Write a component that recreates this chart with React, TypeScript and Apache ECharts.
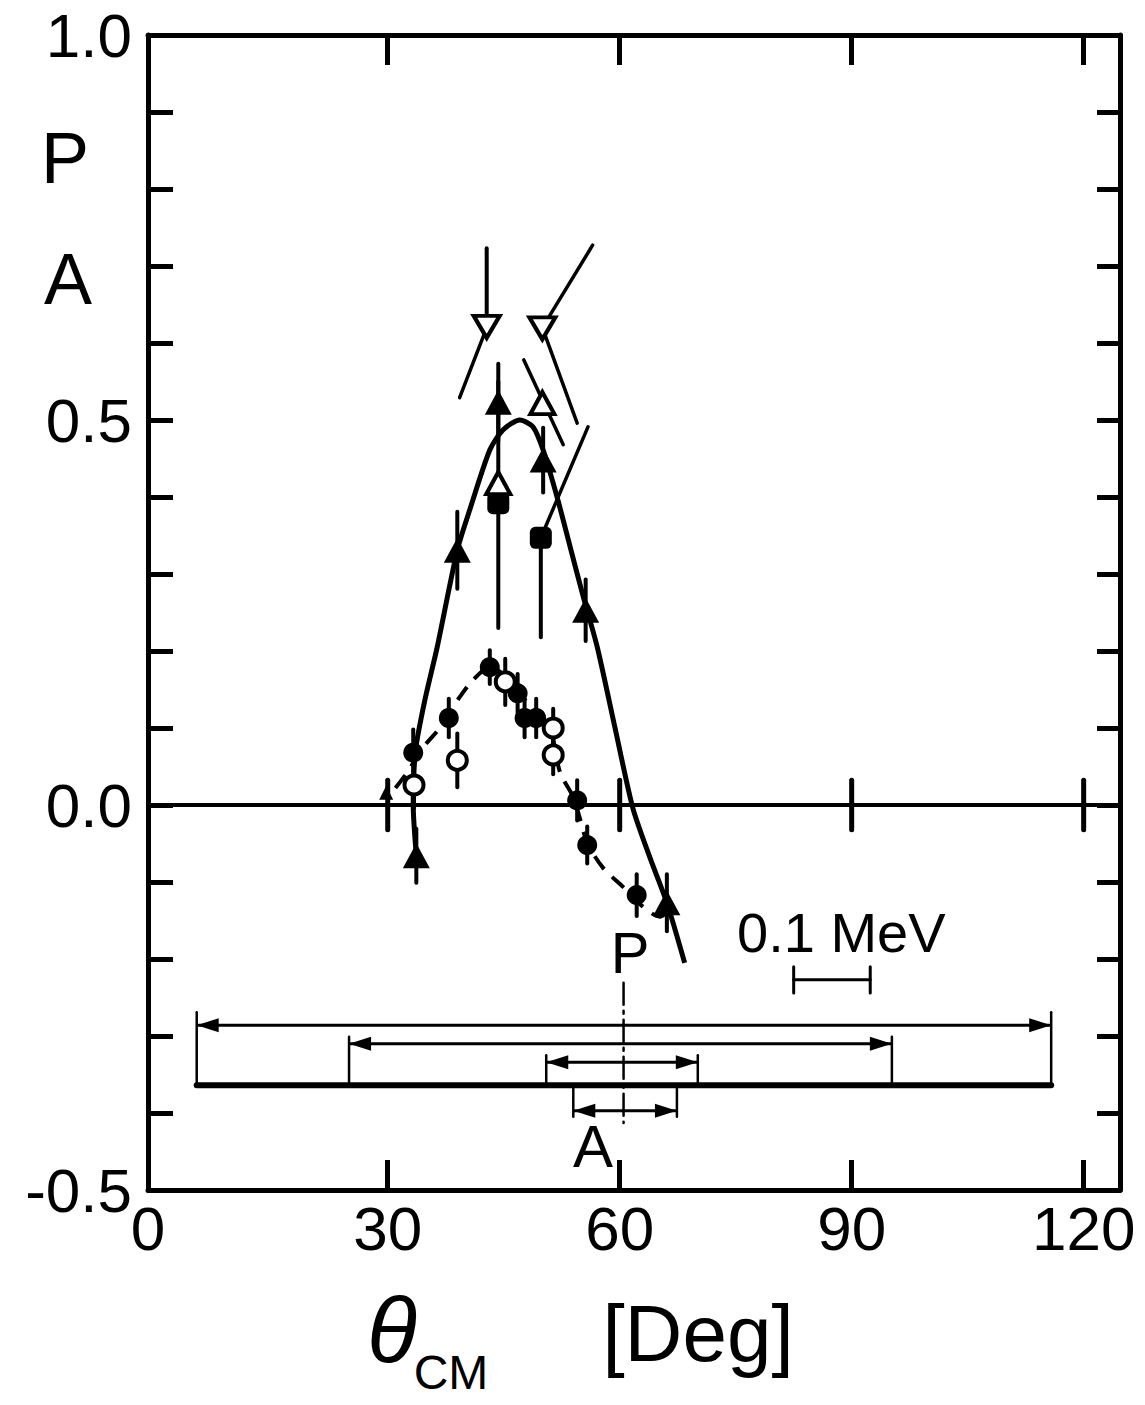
import React, { useEffect, useRef } from "react";
import * as echarts from "echarts";

// ---- axes ----
const X_MIN = -1;
const X_MAX = 124.7;
const Y_MIN = -0.5;
const Y_MAX = 1.0;
const xTickValues = [30, 60, 90, 120];
const xLabelValues = [-1, 30, 60, 90, 120];
const xLabelTexts = ["0", "30", "60", "90", "120"];
const yLabelValues = [-0.5, 0, 0.5, 1.0];
const yLabelTexts = ["-0.5", "0.0", "0.5", "1.0"];

// ---- filled triangles (solid curve data) ----
const fTriTheta = [33.7, 39.0, 44.3, 50.1, 55.6, 66.1];
const fTriVal = [-0.066, 0.331, 0.523, 0.448, 0.253, -0.127];
const fTriErr = [0.035, 0.05, 0.05, 0.042, 0.04, 0.037];
const smallTriTheta = [29.8];
const smallTriVal = [0.016];

// ---- open triangles ----
const oTriTheta = [44.3, 50.0];
const oTriVal = [0.418, 0.522];

// ---- open inverted triangles ----
const invTriTheta = [42.8, 50.0];
const invTriVal = [0.621, 0.619];
const invTriTop = [0.723, null];

// ---- filled squares ----
const sqTheta = [44.3, 49.8];
const sqVal = [0.392, 0.347];
const sqLow = [0.23, 0.218];
const sqHigh = [0.55, 0.347];

// ---- filled circles (dashed curve data) ----
const fCircTheta = [33.3, 37.9, 43.2, 46.8, 47.7, 49.2, 54.5, 55.8, 62.2];
const fCircVal = [0.068, 0.113, 0.179, 0.145, 0.113, 0.113, 0.006, -0.052, -0.117];
const fCircErr = [0.03, 0.025, 0.022, 0.025, 0.025, 0.025, 0.026, 0.024, 0.027];

// ---- open circles ----
const oCircTheta = [33.4, 39.0, 45.2, 51.4, 51.4];
const oCircVal = [0.026, 0.058, 0.16, 0.1, 0.065];
const oCircErr = [0.03, 0.035, 0.03, 0.025, 0.025];

// ---- slanted bars [theta1, val1, theta2, val2] ----
const slantTheta1 = [42.8, 50.0, 50.0, 47.6, 49.8];
const slantVal1 = [0.62, 0.62, 0.62, 0.578, 0.347];
const slantTheta2 = [39.3, 56.5, 54.5, 52.7, 55.9];
const slantVal2 = [0.529, 0.727, 0.496, 0.468, 0.491];

// ---- curves ----
const solidTheta = [33.7, 33.3, 33.6, 34.8, 36.4, 39.0, 40.6, 43.2, 44.9, 47.1, 48.8, 50.1, 51.9, 53.6, 55.3, 57.1, 59.4, 61.7, 63.9, 66.1, 68.4];
const solidVal = [-0.066, 0.0, 0.071, 0.136, 0.205, 0.331, 0.383, 0.461, 0.487, 0.5, 0.491, 0.461, 0.4, 0.335, 0.27, 0.205, 0.1, -0.004, -0.068, -0.127, -0.205];
const dashTheta = [31.0, 32.5, 34.6, 36.8, 39.3, 41.0, 43.2, 45.8, 48.4, 51.0, 52.3, 54.0, 54.9, 55.8, 57.8, 60.4, 63.0, 65.2, 66.2];
const dashVal = [0.022, 0.042, 0.075, 0.101, 0.14, 0.162, 0.179, 0.162, 0.128, 0.097, 0.042, 0.01, -0.019, -0.049, -0.081, -0.106, -0.132, -0.145, -0.139];

// ---- resolution diagram ----
const resLo = [5.3, 25.0, 50.5, 54.0];
const resHi = [115.8, 95.2, 70.1, 67.4];
const resY = [-0.286, -0.31, -0.334, -0.397];
const resTickEnd = [-0.269, -0.301, -0.325, -0.405];
const resBaseY = -0.364;
const resMarkTheta = 60.5;
const resMarkTop = -0.231;
const resMarkBottom = -0.413;
const scaleBarTheta = [82.5, 92.4];
const scaleBarVal = -0.227;
const scaleBarHalf = 0.017;

const FONT = "'Liberation Sans', Arial, sans-serif";

function zip(...arrs: any[][]) {
  return arrs[0].map((_, i) => arrs.map((a) => a[i]));
}

export default function App() {
  const ref = useRef<HTMLDivElement>(null);
  useEffect(() => {
    if (!ref.current) return;
    const chart = echarts.init(ref.current, null, { renderer: "svg" });

    const segRender = (width: number, dash?: number[]) => (params: any, api: any) => {
      const p1 = api.coord([api.value(0), api.value(1)]);
      const p2 = api.coord([api.value(2), api.value(3)]);
      return {
        type: "line",
        shape: { x1: p1[0], y1: p1[1], x2: p2[0], y2: p2[1] },
        style: { stroke: "#000", lineWidth: width, lineDash: dash, lineCap: "round" },
      };
    };

    const errData = (th: number[], v: number[], e: number[]) =>
      th.map((t, i) => [t, v[i] - e[i], t, v[i] + e[i]]);

    const errorBars = [
      ...errData(fTriTheta, fTriVal, fTriErr),
      ...errData(fCircTheta, fCircVal, fCircErr),
      ...errData(oCircTheta, oCircVal, oCircErr),
      ...sqTheta.map((t, i) => [t, sqLow[i], t, sqHigh[i]]),
      ...invTriTheta.map((t, i) => (invTriTop[i] != null ? [t, invTriVal[i], t, invTriTop[i]] : null)).filter(Boolean),
    ];

    const slants = zip(slantTheta1, slantVal1, slantTheta2, slantVal2);
    const zeroTicks = xTickValues.map((t) => [t, -0.032, t, 0.032]);

    const resVerticals: number[][] = [];
    resLo.forEach((lo, i) => {
      resVerticals.push([lo, resBaseY, lo, resTickEnd[i]]);
      resVerticals.push([resHi[i], resBaseY, resHi[i], resTickEnd[i]]);
    });
    const scaleBar = [
      [scaleBarTheta[0], scaleBarVal, scaleBarTheta[1], scaleBarVal],
      [scaleBarTheta[0], scaleBarVal - scaleBarHalf, scaleBarTheta[0], scaleBarVal + scaleBarHalf],
      [scaleBarTheta[1], scaleBarVal - scaleBarHalf, scaleBarTheta[1], scaleBarVal + scaleBarHalf],
    ];

    const arrowRender = (params: any, api: any) => {
      const a = api.coord([api.value(0), api.value(2)]);
      const b = api.coord([api.value(1), api.value(2)]);
      const L = 22, W = 7;
      return {
        type: "group",
        children: [
          { type: "line", shape: { x1: a[0], y1: a[1], x2: b[0], y2: b[1] }, style: { stroke: "#000", lineWidth: 3 } },
          { type: "polygon", shape: { points: [[a[0], a[1]], [a[0] + L, a[1] - W], [a[0] + L, a[1] + W]] }, style: { fill: "#000" } },
          { type: "polygon", shape: { points: [[b[0], b[1]], [b[0] - L, b[1] - W], [b[0] - L, b[1] + W]] }, style: { fill: "#000" } },
        ],
      };
    };

    const segSeries = (name: string, data: any[], width: number, z: number, dash?: number[]) => ({
      name,
      type: "custom",
      renderItem: segRender(width, dash),
      data,
      encode: { x: [0, 2], y: [1, 3] },
      z,
      silent: true,
    });

    const filled = { color: "#000", opacity: 1 };
    const open = { color: "#fff", borderColor: "#000", borderWidth: 4, opacity: 1 };

    const option: any = {
      animation: false,
      backgroundColor: "#fff",
      grid: { left: 148, top: 35, width: 972, height: 1155, show: false },
      xAxis: [
        {
          type: "value",
          min: X_MIN,
          max: X_MAX,
          position: "bottom",
          axisLine: { show: true, onZero: false, lineStyle: { color: "#000", width: 5 } },
          axisTick: { show: true, inside: true, length: 30, customValues: xTickValues, lineStyle: { color: "#000", width: 5 } },
          axisLabel: {
            show: true,
            customValues: xLabelValues,
            formatter: (v: number) => xLabelTexts[xLabelValues.indexOf(v)] ?? "",
            fontSize: 62,
            fontFamily: FONT,
            color: "#000",
            margin: 7,
          },
          splitLine: { show: false },
        },
        {
          type: "value",
          min: X_MIN,
          max: X_MAX,
          position: "top",
          axisLine: { show: true, onZero: false, lineStyle: { color: "#000", width: 5 } },
          axisTick: { show: true, inside: true, length: 30, customValues: xTickValues, lineStyle: { color: "#000", width: 5 } },
          axisLabel: { show: false },
          splitLine: { show: false },
        },
      ],
      yAxis: [
        {
          type: "value",
          min: Y_MIN,
          max: Y_MAX,
          interval: 0.1,
          position: "left",
          axisLine: { show: true, onZero: false, lineStyle: { color: "#000", width: 5 } },
          axisTick: { show: true, inside: true, length: 25, lineStyle: { color: "#000", width: 5 } },
          axisLabel: {
            show: true,
            customValues: yLabelValues,
            formatter: (v: number) => {
              const i = yLabelValues.findIndex((y) => Math.abs(y - v) < 1e-6);
              return i >= 0 ? yLabelTexts[i] : "";
            },
            fontSize: 62,
            fontFamily: FONT,
            color: "#000",
            margin: 16,
          },
          splitLine: { show: false },
        },
        {
          type: "value",
          min: Y_MIN,
          max: Y_MAX,
          interval: 0.1,
          position: "right",
          axisLine: { show: true, onZero: false, lineStyle: { color: "#000", width: 5 } },
          axisTick: { show: true, inside: true, length: 23, lineStyle: { color: "#000", width: 5 } },
          axisLabel: { show: false },
          splitLine: { show: false },
        },
      ],
      series: [
        {
          name: "zero",
          type: "line",
          data: [],
          markLine: {
            silent: true,
            symbol: "none",
            label: { show: false },
            lineStyle: { color: "#000", width: 4, type: "solid" },
            data: [{ yAxis: 0 }],
          },
        },
        segSeries("zeroTicks", zeroTicks, 5, 2),
        {
          name: "solid",
          type: "line",
          data: zip(solidTheta, solidVal),
          smooth: 0.25,
          showSymbol: false,
          lineStyle: { color: "#000", width: 5 },
          z: 2,
          silent: true,
        },
        {
          name: "dashed",
          type: "line",
          data: zip(dashTheta, dashVal),
          smooth: 0.3,
          showSymbol: false,
          lineStyle: { color: "#000", width: 4, type: [16, 11] },
          z: 2,
          silent: true,
        },
        segSeries("errors", errorBars, 4, 3),
        segSeries("slants", slants, 3.5, 3),
        {
          name: "filledTri",
          type: "scatter",
          data: zip(fTriTheta, fTriVal),
          symbol: "triangle",
          symbolSize: [27, 25],
          itemStyle: filled,
          z: 5,
        },
        {
          name: "smallTri",
          type: "scatter",
          data: zip(smallTriTheta, smallTriVal),
          symbol: "triangle",
          symbolSize: [14, 14],
          itemStyle: filled,
          z: 5,
        },
        {
          name: "openTri",
          type: "scatter",
          data: zip(oTriTheta, oTriVal),
          symbol: "triangle",
          symbolSize: [24, 22],
          itemStyle: open,
          z: 6,
        },
        {
          name: "invTri",
          type: "scatter",
          data: zip(invTriTheta, invTriVal),
          symbol: "triangle",
          symbolRotate: 180,
          symbolSize: [26, 22],
          itemStyle: open,
          z: 6,
        },
        {
          name: "squares",
          type: "scatter",
          data: zip(sqTheta, sqVal),
          symbol: "roundRect",
          symbolSize: 22,
          itemStyle: filled,
          z: 5,
        },
        {
          name: "filledCirc",
          type: "scatter",
          data: zip(fCircTheta, fCircVal),
          symbol: "circle",
          symbolSize: 20,
          itemStyle: filled,
          z: 5,
        },
        {
          name: "openCirc",
          type: "scatter",
          data: zip(oCircTheta, oCircVal),
          symbol: "circle",
          symbolSize: 19,
          itemStyle: open,
          z: 6,
        },
        segSeries("resBase", [[resLo[0], resBaseY, resHi[0], resBaseY]], 6, 3),
        segSeries("resVerticals", resVerticals, 2.5, 3),
        segSeries("resMark", [[resMarkTheta, resMarkTop, resMarkTheta, resMarkBottom]], 2.5, 4, [22, 6, 3, 6]),
        segSeries("scaleBar", scaleBar, 3, 3),
        {
          name: "resArrows",
          type: "custom",
          renderItem: arrowRender,
          data: zip(resLo, resHi, resY),
          encode: { x: [0, 1], y: 2 },
          z: 3,
          silent: true,
        },
      ],
      graphic: [
        { type: "text", x: 65, y: 158, style: { text: "P", font: `72px ${FONT}`, fill: "#000", align: "center", verticalAlign: "middle" } },
        { type: "text", x: 68, y: 279, style: { text: "A", font: `72px ${FONT}`, fill: "#000", align: "center", verticalAlign: "middle" } },
        { type: "text", x: 630, y: 952, style: { text: "P", font: `58px ${FONT}`, fill: "#000", align: "center", verticalAlign: "middle" } },
        { type: "text", x: 593, y: 1146, style: { text: "A", font: `60px ${FONT}`, fill: "#000", align: "center", verticalAlign: "middle" } },
        { type: "text", x: 737, y: 932, style: { text: "0.1 MeV", font: `56px ${FONT}`, fill: "#000", align: "left", verticalAlign: "middle" } },
        { type: "text", x: 392, y: 1330, style: { text: "θ", font: `italic 92px ${FONT}`, fill: "#000", align: "center", verticalAlign: "middle" } },
        { type: "text", x: 451, y: 1372, style: { text: "CM", font: `48px ${FONT}`, fill: "#000", align: "center", verticalAlign: "middle" } },
        { type: "text", x: 698, y: 1333, style: { text: "[Deg]", font: `80px ${FONT}`, fill: "#000", align: "center", verticalAlign: "middle" } },
      ],
    };

    chart.setOption(option);
    return () => chart.dispose();
  }, []);

  return (
    <div
      ref={ref}
      style={{ position: "absolute", left: 0, top: 0, width: 1145, height: 1405, background: "#fff" }}
    />
  );
}
